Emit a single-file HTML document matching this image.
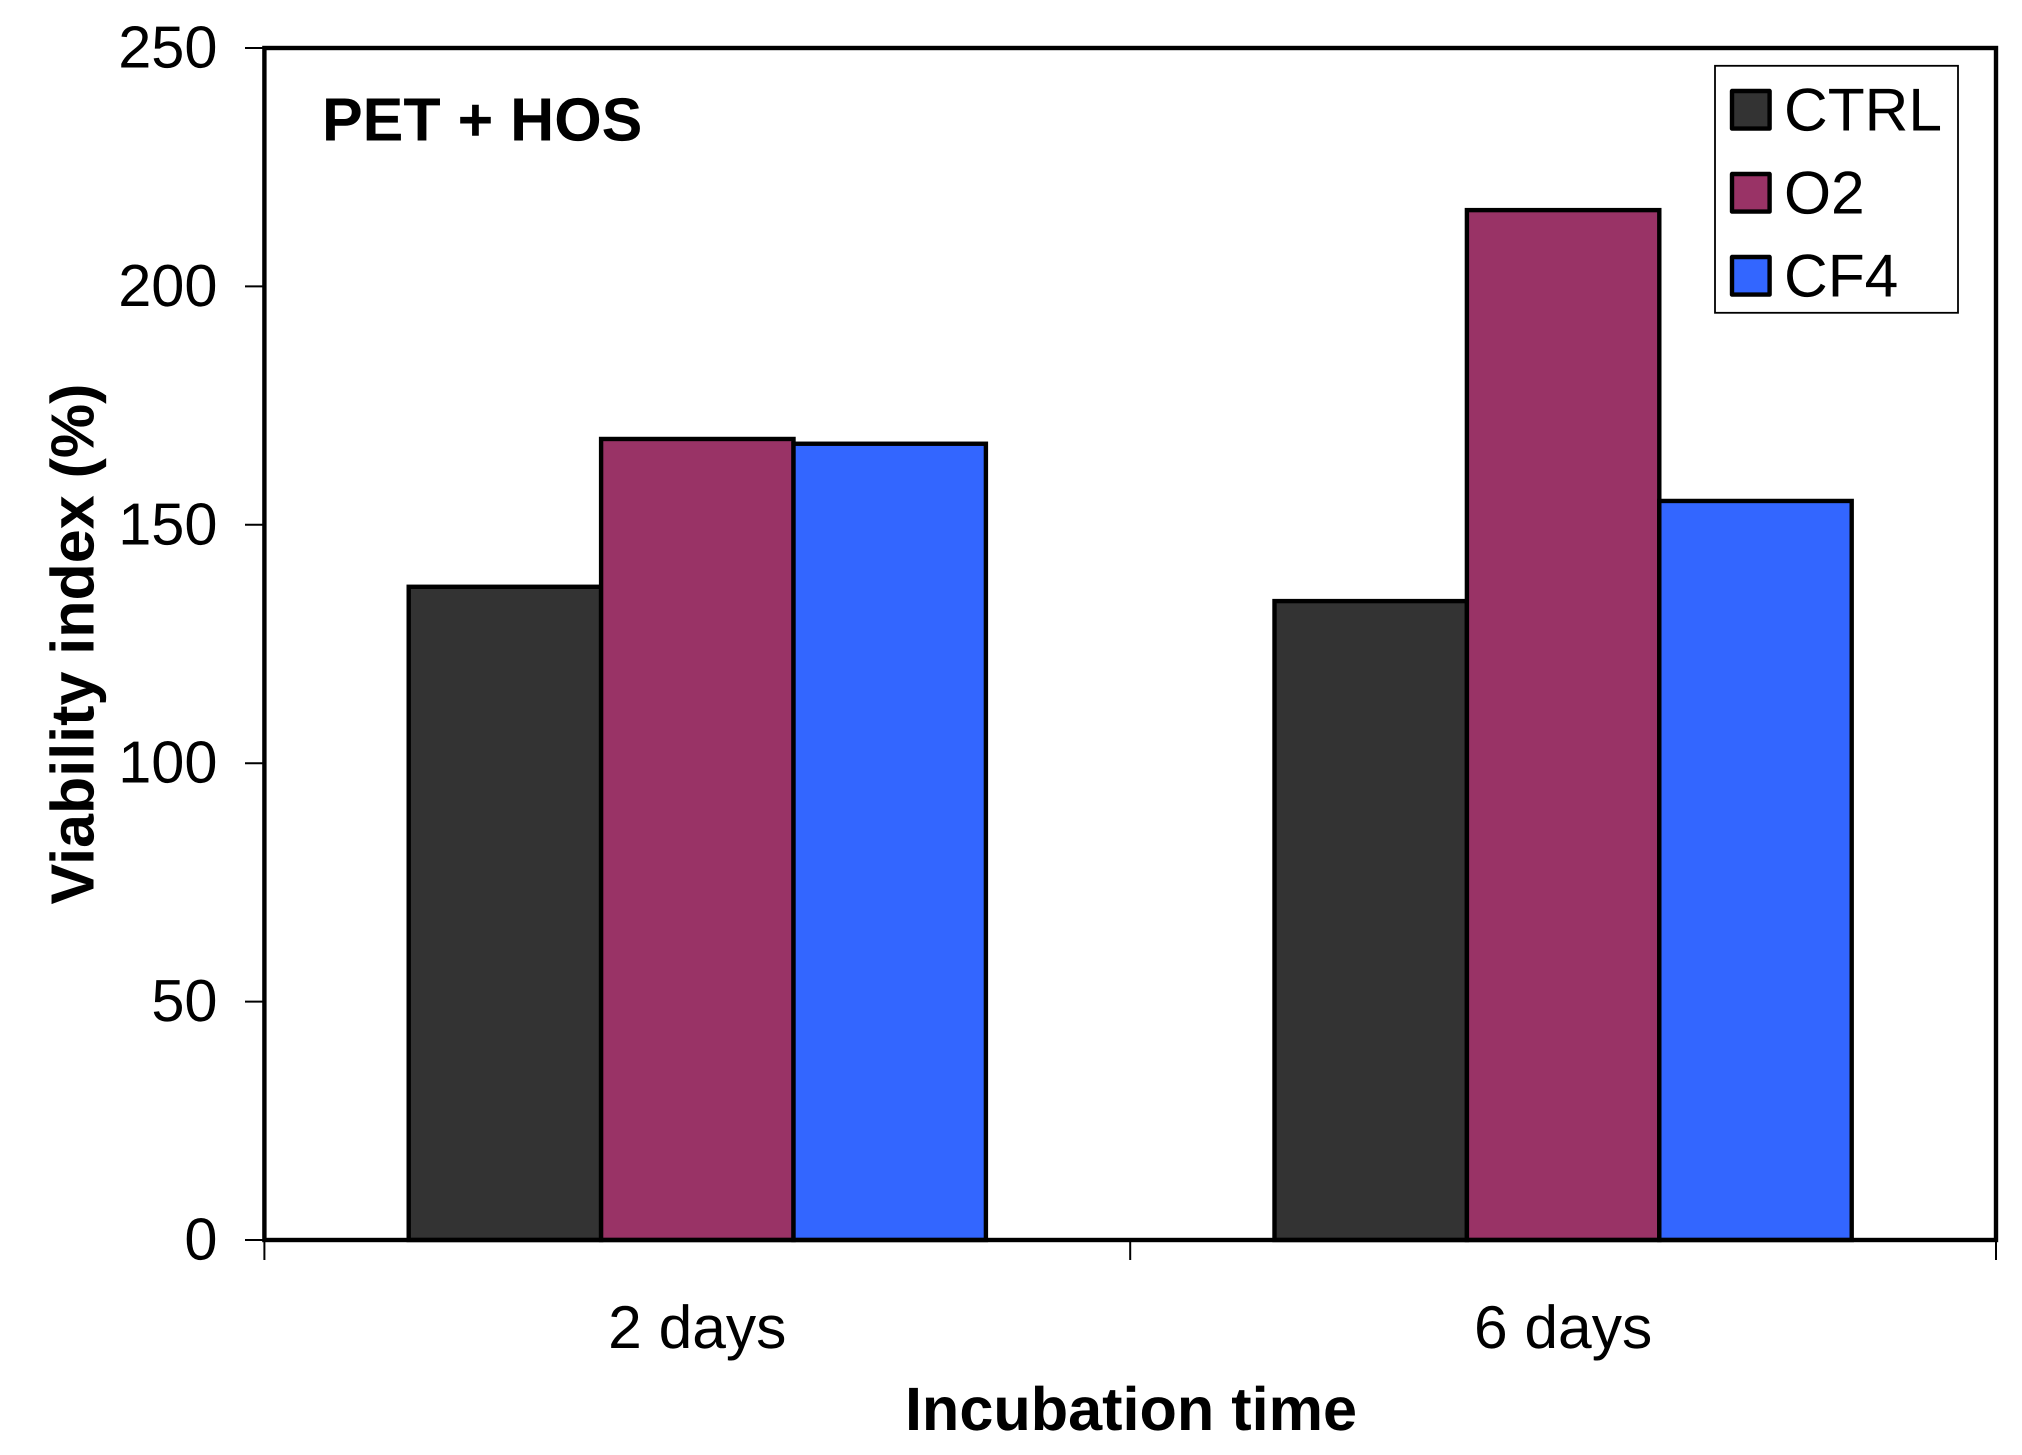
<!DOCTYPE html>
<html lang="en">
<head>
<meta charset="utf-8">
<title>PET + HOS viability index</title>
<style>
html,body{margin:0;padding:0;background:#fff;}
body{width:2022px;height:1455px;overflow:hidden;}
svg{display:block;}
text{font-family:"Liberation Sans",Arial,sans-serif;fill:#000;text-rendering:geometricPrecision;}
</style>
</head>
<body>
<svg id="chart" xmlns="http://www.w3.org/2000/svg" width="2022" height="1455" viewBox="0 0 2022 1455">
  <rect x="0" y="0" width="2022" height="1455" fill="#fff"/>
  <g id="y-ticks"></g>
  <g id="x-ticks"></g>
  <g id="bars"></g>
  <rect x="264.4" y="48" width="1731.6" height="1192" fill="none" stroke="#000" stroke-width="4.4"/>
  <g id="x-labels"></g>
  <text x="322" y="140.5" font-size="61" font-weight="700">PET + HOS</text>
  <text x="1131" y="1430" font-size="61.2" font-weight="700" text-anchor="middle">Incubation time</text>
  <text transform="translate(93.5,644) rotate(-90)" font-size="61" font-weight="700" text-anchor="middle">Viability index (%)</text>
  <g id="legend">
    <rect x="1715" y="65.8" width="243" height="247" fill="#fff" stroke="#000" stroke-width="1.8"/>
  </g>
</svg>
<script>
const categories = ["2 days", "6 days"];
const seriesNames = ["CTRL", "O2", "CF4"];
const ctrlValues = [137, 134];
const o2Values = [168, 216];
const cf4Values = [167, 155];
const yTickValues = [0, 50, 100, 150, 200, 250];
const seriesColors = ["#333333", "#993366", "#3366FF"];

const SVG_NS = "http://www.w3.org/2000/svg";
const plot = { left: 264.4, right: 1996, top: 48, bottom: 1240 };
const yMax = 250;
const seriesValues = [ctrlValues, o2Values, cf4Values];

function yScale(v) {
  return plot.bottom - (v / yMax) * (plot.bottom - plot.top);
}
function bandWidth() {
  return (plot.right - plot.left) / categories.length;
}
function barWidth() {
  return bandWidth() / (seriesNames.length + 1.5);
}
function xScale(categoryIndex, seriesIndex) {
  const center = plot.left + bandWidth() * (categoryIndex + 0.5);
  return center - barWidth() * seriesNames.length / 2 + barWidth() * seriesIndex;
}
function make(tag, attrs, parent) {
  const el = document.createElementNS(SVG_NS, tag);
  for (const key in attrs) el.setAttribute(key, attrs[key]);
  parent.appendChild(el);
  return el;
}

const yTicksGroup = document.getElementById("y-ticks");
yTickValues.forEach(function (v) {
  const y = yScale(v);
  const tick = make("line", { x1: 245, x2: plot.left, y1: y, y2: y, stroke: "#000", "stroke-width": 2 }, yTicksGroup);
  
  
  const label = make("text", { x: 217.5, y: y + 19.5, "font-size": 59.5, "text-anchor": "end" }, yTicksGroup);
  label.textContent = String(v);
  
  
});

const xTicksGroup = document.getElementById("x-ticks");
for (let i = 0; i <= categories.length; i++) {
  const x = plot.left + bandWidth() * i;
  const tick = make("line", { x1: x, x2: x, y1: plot.bottom, y2: 1260, stroke: "#000", "stroke-width": 2 }, xTicksGroup);
  
  
}

const barsGroup = document.getElementById("bars");
categories.forEach(function (cat, c) {
  seriesNames.forEach(function (name, s) {
    const v = seriesValues[s][c];
    const bar = make("rect", {
      x: xScale(c, s),
      y: yScale(v),
      width: barWidth(),
      height: plot.bottom - yScale(v),
      fill: seriesColors[s],
      stroke: "#000",
      "stroke-width": 4.4
    }, barsGroup);
    
    
  });
});

const xLabelsGroup = document.getElementById("x-labels");
categories.forEach(function (cat, c) {
  const x = plot.left + bandWidth() * (c + 0.5);
  const label = make("text", { x: x, y: 1348, "font-size": 60.5, "text-anchor": "middle" }, xLabelsGroup);
  label.textContent = cat;
  
  
});

const legendGroup = document.getElementById("legend");
seriesNames.forEach(function (name, s) {
  const top = 91 + s * 83;
  const swatch = make("rect", {
    x: 1732, y: top, width: 37.6, height: 37.6,
    fill: seriesColors[s], stroke: "#000", "stroke-width": 4.4, "stroke-linejoin": "round"
  }, legendGroup);
  
  
  const label = make("text", { x: 1784, y: top + 39.5, "font-size": 60.5 }, legendGroup);
  label.textContent = name;
  
  
});
</script>
</body>
</html>
